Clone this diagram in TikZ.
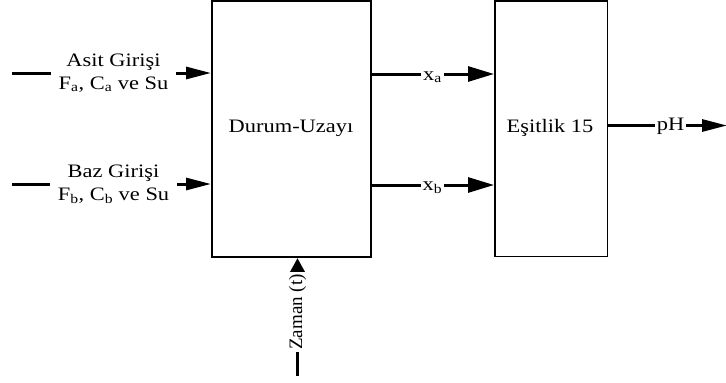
\documentclass[tikz,border=0pt]{standalone}
\usepackage{fontspec}
\setmainfont{Liberation Serif}
\newfontfamily\widefont[FakeStretch=1.18]{Liberation Serif}
\usetikzlibrary{arrows.meta}
\begin{document}
\begin{tikzpicture}[x=1pt,y=-1pt,
  sig/.style={line width=3pt,-{Triangle[length=25pt,width=12pt]}},
  sigb/.style={line width=3pt,-{Triangle[length=26pt,width=15pt]}},
  lbl/.style={fill=white,inner ysep=0.5pt,inner xsep=2pt,font=\widefont\fontsize{19}{23}\selectfont,align=center},
  txt/.style={font=\widefont\fontsize{19}{23}\selectfont}]
\useasboundingbox (0,0) rectangle (726,383);
\draw[line width=1.5pt] (212,0.75) rectangle (371,257);
\draw[line width=1.5pt] (495,0.75) rectangle (607.5,256.5);
\node[txt] (du) at (291,128) {Durum-Uzayı};
\node[txt] (es) at (550,128) {Eşitlik 15};
\coordinate (a0) at (12,73);
\coordinate (a1) at (211,73);
\coordinate (b0) at (12,184);
\coordinate (b1) at (211,184);
\coordinate (xa0) at (371,74);
\coordinate (xa1) at (494,74);
\coordinate (xb0) at (371,185);
\coordinate (xb1) at (494,185);
\coordinate (p0) at (608,125.5);
\coordinate (p1) at (727,125.5);
\coordinate (z0) at (297.5,376);
\coordinate (z1) at (297.5,258);
\draw[sig] (a0) -- (a1);
\node[lbl,inner xsep=8pt] (la) at (113.5,73) {Asit Girişi\\F\textsubscript{a}, C\textsubscript{a} ve Su};
\draw[sig] (b0) -- (b1);
\node[lbl,inner xsep=8pt] (lb) at (113.5,184) {Baz Girişi\\F\textsubscript{b}, C\textsubscript{b} ve Su};
\draw[sigb] (xa0) -- (xa1);
\node[lbl] (lxa) at (432.5,77) {x\textsubscript{a}};
\draw[sigb] (xb0) -- (xb1);
\node[lbl] (lxb) at (432.5,188) {x\textsubscript{b}};
\draw[sig] (p0) -- (p1);
\node[lbl] (lp) at (670.5,126) {pH};
\draw[line width=3.5pt,-{Triangle[length=14pt,width=14pt]}] (z0) -- (z1);
\node[lbl,rotate=90,font=\fontsize{19}{23}\selectfont] (lz) at (297.5,312) {Zaman (t)};
\end{tikzpicture}
\end{document}
